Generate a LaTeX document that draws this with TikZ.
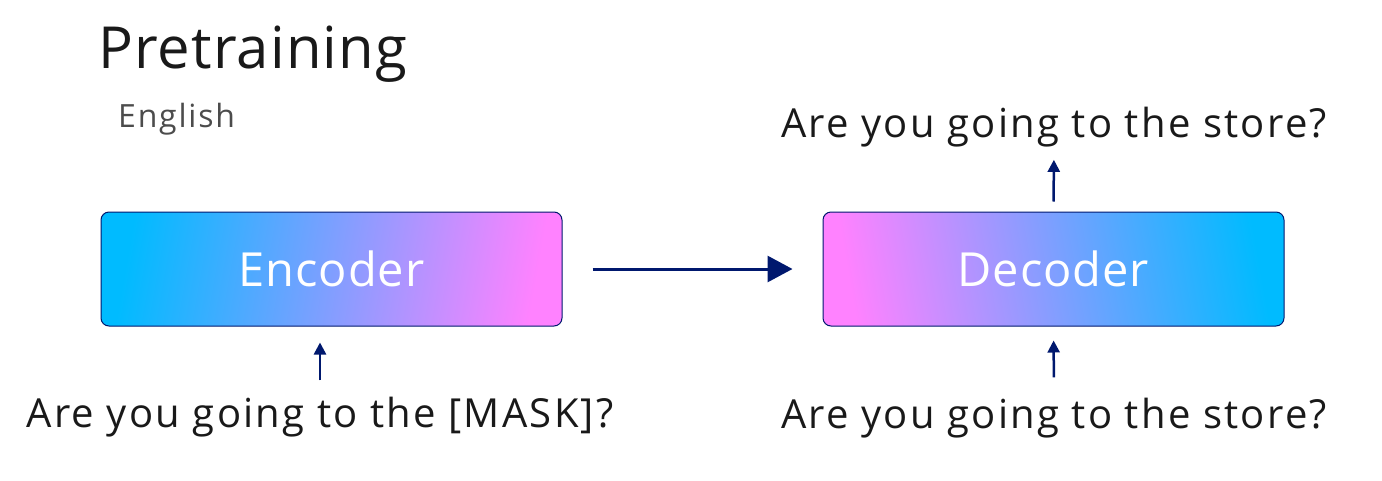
\documentclass[tikz,border=0pt]{standalone}
\usepackage{fontspec}
\setmainfont{Open Sans}
\usetikzlibrary{arrows.meta}

\definecolor{navy}{RGB}{0,24,110}
\definecolor{skyblue}{RGB}{0,187,255}
\definecolor{lilac}{RGB}{140,150,255}
\definecolor{pinkish}{RGB}{255,130,255}
\definecolor{ink}{RGB}{25,25,25}

\newfontfamily\wide[LetterSpace=5.6]{Open Sans}
\newfontfamily\narrow[LetterSpace=2]{Open Sans}

\begin{document}
\begin{tikzpicture}[x=1pt, y=-1pt,
    block/.style={draw=navy, line width=1pt, rounded corners=8pt,
        minimum width=461pt, minimum height=114pt, inner sep=0pt,
        text=white, font=\narrow\fontsize{47}{53}\selectfont},
    sentence/.style={inner sep=0pt, anchor=base, text=ink,
        font=\wide\fontsize{40}{46}\selectfont},
    flow/.style={navy, line width=3pt, -{Triangle[length=25pt, width=26pt]}},
    feed/.style={navy, line width=2.5pt, -{Triangle[length=12pt, width=12pt]}}
    ]
    \useasboundingbox (0,0) rectangle (1382,480);

    \node[anchor=base west, inner sep=0pt, text=ink,
        font=\narrow\fontsize{58}{64}\selectfont] (title) at (98,68) {Pretraining};
    \node[anchor=base west, inner sep=0pt, text=black!70,
        font=\wide\fontsize{32}{38}\selectfont] (lang) at (118,127) {English};

    \node[block, left color=skyblue, middle color=lilac, right color=pinkish,
        shading angle=80] (enc) at (331.5,269) {Encoder};
    \node[block, left color=pinkish, middle color=lilac, right color=skyblue,
        shading angle=100] (dec) at (1053.5,269) {Decoder};

    \node[sentence] (encin) at (320,427) {Are you going to the [MASK]?};
    \node[sentence] (decin) at (1054,428) {Are you going to the store?};
    \node[sentence] (decout) at (1054,137) {Are you going to the store?};

    \draw[flow, shorten <=30pt, shorten >=30pt] (enc.east) -- (dec.west);
    \draw[feed, shorten <=16pt, shorten >=16pt] (encin.north) -- (encin.north |- enc.south);
    \draw[feed, shorten <=20pt, shorten >=14pt] (decin.north) -- (dec.south);
    \draw[feed, shorten <=10pt, shorten >=13pt] (dec.north) -- (decout.south);
\end{tikzpicture}
\end{document}
